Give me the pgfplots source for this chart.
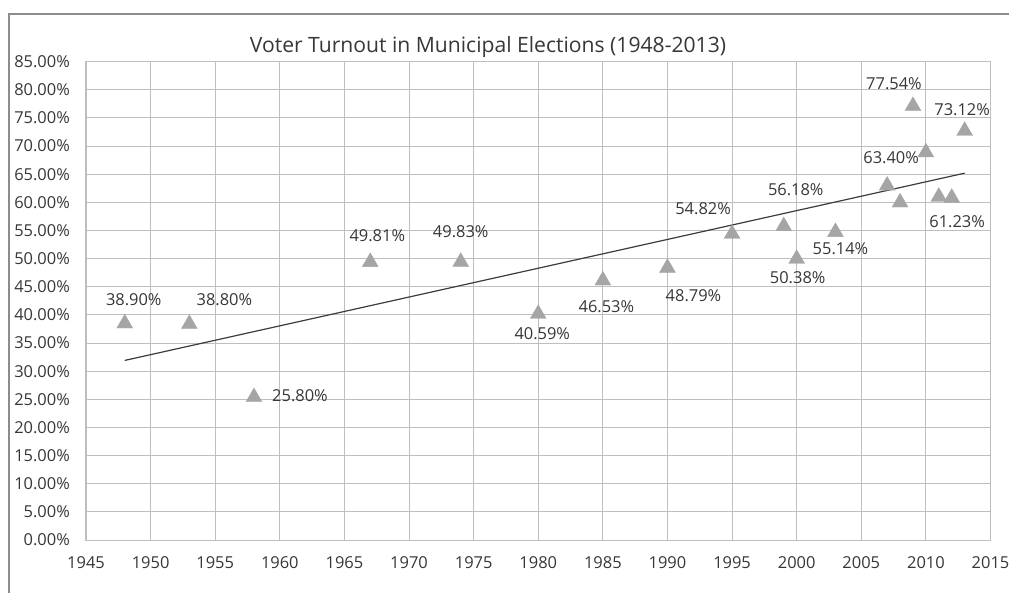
\documentclass[border=0pt]{standalone}
\usepackage{pgfplots}
\usepackage{pgfplotstable}
\pgfplotsset{compat=1.18}
\usepackage{fontspec}
\setmainfont{Open Sans}
\definecolor{gridc}{RGB}{190,190,190}
\definecolor{markc}{RGB}{165,165,165}
\definecolor{trendc}{RGB}{60,60,60}
\definecolor{txtc}{RGB}{55,55,55}
\definecolor{framec}{RGB}{140,140,140}

\pgfplotstableread{
x y
1948 38.90
1953 38.80
1958 25.80
1967 49.81
1974 49.83
1980 40.59
1985 46.53
1990 48.79
1995 54.82
1999 56.18
2000 50.38
2003 55.14
2007 63.40
2008 60.40
2009 77.54
2010 69.30
2011 61.40
2012 61.23
2013 73.12
}\alldata

\pgfplotstableread{
x y dx dy
1948 38.90 9 21
1953 38.80 35 22
1958 25.80 46 -1
1967 49.81 7 24
1974 49.83 0 28
1980 40.59 4 -22
1985 46.53 3.5 -28.5
1990 48.79 26 -30
1995 54.82 -29 22.5
1999 56.18 12 34
2000 50.38 1 -21
2003 55.14 5 -19
2007 63.40 4 25.6
2009 77.54 -19 20.4
2013 73.12 -2.5 18.6
2012 61.23 5.4 -26
}\labeldata

\begin{document}
\begin{tikzpicture}
\begin{axis}[
  at={(0,0)}, anchor=south west,
  scale only axis,
  width=904.5bp, height=478.3bp,
  xmin=1945, xmax=2015, ymin=0, ymax=85,
  xtick distance=5, ytick distance=5,
  grid=major,
  major grid style={gridc, line width=1bp},
  axis line style={gridc, line width=1bp},
  major tick length=0pt,
  /pgf/number format/assume math mode=true,
  /pgf/number format/1000 sep={},
  ticklabel style={font=\fontsize{16.5}{19}\selectfont, text=txtc, inner sep=0pt},
  yticklabel={\pgfmathprintnumber[fixed,fixed zerofill,precision=2]{\tick}\%},
  yticklabel style={anchor=east, xshift=-16bp},
  xticklabel style={anchor=base, yshift=-28.5bp},
  clip=false,
]
\addplot[only marks, mark=triangle*, mark size=9.2bp,
  mark options={fill=markc, draw=markc, line width=0.3bp, yshift=-2.3bp}]
  table[x=x, y=y] {\alldata};
\addplot[no marks, trendc, line width=1.2bp]
  table[x=x, y={create col/linear regression={y=y}}] {\alldata};
\addplot[only marks, mark=none,
  point meta=explicit,
  visualization depends on={\thisrow{dx}\as\dx},
  visualization depends on={\thisrow{dy}\as\dy},
  nodes near coords={\pgfmathprintnumber[fixed,fixed zerofill,precision=2]{\pgfplotspointmeta}\%},
  nodes near coords style={anchor=center, inner sep=0pt, xshift=\dx bp, yshift=\dy bp,
    font=\fontsize{16.5}{19}\selectfont, text=txtc},
  ]
  table[x=x, y=y, meta=y] {\labeldata};
\end{axis}
\node[anchor=base, inner sep=0pt, text=txtc, font=\fontsize{21.2}{25}\selectfont] at (402bp,487bp)
  {Voter Turnout in Municipal Elections (1948-2013)};
\draw[framec, line width=1.2bp] (-77bp,-60bp) -- (-77bp,526bp) -- (930bp,526bp);
\pgfresetboundingbox
\path[use as bounding box] (-86bp,-53bp) rectangle (923bp,540bp);
\end{tikzpicture}
\end{document}
